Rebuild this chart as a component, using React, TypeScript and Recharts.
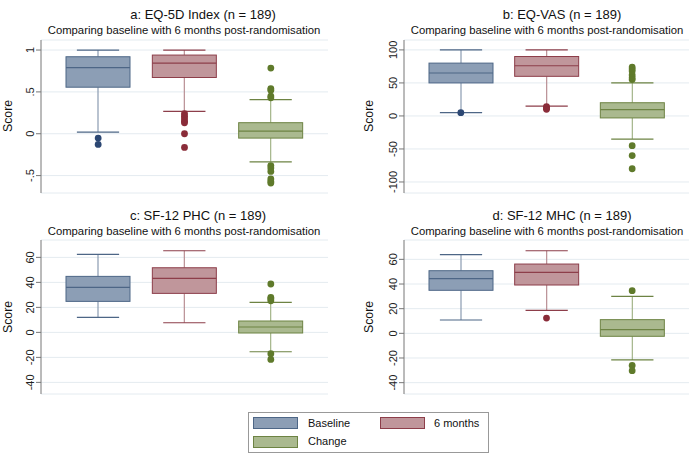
import { ComposedChart, Bar, Scatter, XAxis, YAxis, CartesianGrid } from "recharts";

/* ── Data ───────────────────────────────────────────────── */

const GROUPS = ["Baseline", "6 months", "Change"];

// box stats: [lower whisker, q1, median, q3, upper whisker]
const EQ5D_BASE = [0.02, 0.556, 0.79, 0.92, 1.0];
const EQ5D_SIX = [0.268, 0.672, 0.844, 0.94, 1.0];
const EQ5D_CHG = [-0.336, -0.052, 0.032, 0.132, 0.408];
const EQ5D_BASE_OUT = [-0.052, -0.128];
const EQ5D_SIX_OUT = [0.24, 0.21, 0.18, 0.15, 0.13, 0.0, -0.164];
const EQ5D_CHG_OUT = [0.784, 0.54, 0.52, 0.45, 0.43, -0.38, -0.41, -0.45, -0.54, -0.57, -0.59];
const EQ5D_TICKS = [-0.5, 0, 0.5, 1];

const VAS_BASE = [5, 50, 65, 80, 100];
const VAS_SIX = [15, 60, 76, 90, 100];
const VAS_CHG = [-35, -3, 9.5, 20, 50];
const VAS_BASE_OUT = [5];
const VAS_SIX_OUT = [14, 12, 10];
const VAS_CHG_OUT = [74, 71, 68, 62, 58, 55, -45, -60, -80];
const VAS_TICKS = [-100, -50, 0, 50, 100];

const PHC_BASE = [12, 24.8, 36, 44.8, 62.4];
const PHC_SIX = [7.7, 31.2, 43.2, 51.7, 65.3];
const PHC_CHG = [-15.5, -0.5, 4.3, 9.1, 24];
const PHC_BASE_OUT: number[] = [];
const PHC_SIX_OUT: number[] = [];
const PHC_CHG_OUT = [38.7, 28, 27, 25.3, -17, -21.6];

const MHC_BASE = [10.8, 34.9, 44.3, 50.8, 63.8];
const MHC_SIX = [18.6, 39.2, 49.5, 56.2, 67];
const MHC_CHG = [-21.6, -2.4, 3, 11.1, 30];
const MHC_BASE_OUT: number[] = [];
const MHC_SIX_OUT = [12.4];
const MHC_CHG_OUT = [34.6, -26, -30.3];
const SF_TICKS = [-40, -20, 0, 20, 40, 60];

/* ── Style ──────────────────────────────────────────────── */

const FONT = "'Liberation Sans', Arial, Helvetica, sans-serif";
const FILL = ["#8c9eb5", "#c0969b", "#aab98f"];
const EDGE = ["#4d6686", "#8d3e4a", "#6d8343"];
const WHISK = ["#8a9bb1", "#b98e93", "#a3b489"];
const DOT = ["#2c4773", "#8a2c39", "#5f7a2b"];
const AXIS = "#777";
const GRID = "#e4ebf0";

/* ── Helpers ────────────────────────────────────────────── */

function boxRows(stats: number[][]) {
  return stats.map((s, i) => ({
    g: GROUPS[i],
    i,
    lo: s[0],
    q1: s[1],
    med: s[2],
    q3: s[3],
    hi: s[4],
  }));
}

function outRows(outs: number[][]) {
  return outs.flatMap((arr, i) => arr.map((v) => ({ x: i + 0.5, v, i })));
}

function BoxShape(props: any) {
  const { x, y, width, height, payload } = props;
  if (!payload || payload.lo == null) return null;
  const top = Math.min(y, y + height);
  const bot = Math.max(y, y + height);
  const py = (v: number) => top + ((payload.hi - v) / (payload.hi - payload.lo)) * (bot - top);
  const cx = x + width / 2;
  const cap = width * 0.33;
  const i = payload.i;
  const yq3 = py(payload.q3);
  const yq1 = py(payload.q1);
  const ym = py(payload.med);
  return (
    <g>
      <line x1={cx} x2={cx} y1={top} y2={yq3} stroke={WHISK[i]} strokeWidth={1.2} />
      <line x1={cx} x2={cx} y1={yq1} y2={bot} stroke={WHISK[i]} strokeWidth={1.2} />
      <line x1={cx - cap} x2={cx + cap} y1={top} y2={top} stroke={EDGE[i]} strokeWidth={1.2} />
      <line x1={cx - cap} x2={cx + cap} y1={bot} y2={bot} stroke={EDGE[i]} strokeWidth={1.2} />
      <rect x={x} y={yq3} width={width} height={yq1 - yq3} fill={FILL[i]} stroke={EDGE[i]} strokeWidth={1} />
      <line x1={x} x2={x + width} y1={ym} y2={ym} stroke={EDGE[i]} strokeWidth={1.2} />
    </g>
  );
}

function OutDot(props: any) {
  const { cx, cy, payload } = props;
  if (cx == null || cy == null) return null;
  return <circle cx={cx} cy={cy} r={3.4} fill={DOT[payload.i]} />;
}

function fmtIndex(v: number) {
  return String(v).replace("0.", ".");
}

function RotTick(props: any) {
  const { x, y, payload, fmt } = props;
  const label = fmt ? fmt(payload.value) : String(payload.value);
  return (
    <text
      x={x}
      y={y}
      transform={`rotate(-90 ${x} ${y})`}
      textAnchor="middle"
      fontSize={11}
      fontFamily={FONT}
      fill="#222"
    >
      {label}
    </text>
  );
}

/* ── Panel ──────────────────────────────────────────────── */

interface PanelProps {
  left: number;
  plotLeft: number;
  plotRight: number;
  plotTop: number;
  plotBottom: number;
  domain: [number, number];
  ticks: number[];
  stats: number[][];
  outs: number[][];
  fmt?: (v: number) => string;
}

function Panel({ left, plotLeft, plotRight, plotTop, plotBottom, domain, ticks, stats, outs, fmt }: PanelProps) {
  const pad = 6;
  const width = plotRight - left + 1;
  const height = plotBottom - plotTop + pad * 2;
  return (
    <div style={{ position: "absolute", left, top: plotTop - pad, width, height }}>
      <ComposedChart
        width={width}
        height={height}
        data={boxRows(stats)}
        margin={{ top: pad, right: 1, bottom: pad, left: 0 }}
      >
        <CartesianGrid horizontal vertical={false} stroke={GRID} />
        <XAxis
          dataKey="g"
          type="category"
          height={0}
          tick={false}
          tickLine={false}
          axisLine={{ stroke: AXIS }}
          padding={{ left: 14, right: 14 }}
        />
        <XAxis
          xAxisId="n"
          dataKey="x"
          type="number"
          domain={[0, 3]}
          hide
          padding={{ left: 14, right: 14 }}
        />
        <YAxis
          type="number"
          domain={domain}
          ticks={ticks}
          allowDataOverflow
          width={plotLeft - left}
          tickSize={5}
          tickLine={{ stroke: AXIS }}
          axisLine={{ stroke: AXIS }}
          tick={(p: any) => <RotTick {...p} fmt={fmt} />}
        />
        <Bar
          dataKey={(d: any) => [d.lo, d.hi]}
          barSize={64}
          shape={<BoxShape />}
          isAnimationActive={false}
        />
        <Scatter
          xAxisId="n"
          data={outRows(outs)}
          dataKey="v"
          shape={<OutDot />}
          isAnimationActive={false}
        />
      </ComposedChart>
    </div>
  );
}

/* ── Titles & legend ────────────────────────────────────── */

const SUB = "Comparing baseline with 6 months post-randomisation";

function Overlay() {
  const titles = [
    { t: "a: EQ-5D Index (n = 189)", x: 203, sx: 184, y: 19 },
    { t: "b: EQ-VAS (n = 189)", x: 562, sx: 547, y: 19 },
    { t: "c: SF-12 PHC (n = 189)", x: 198, sx: 184, y: 220 },
    { t: "d: SF-12 MHC (n = 189)", x: 562, sx: 547, y: 220 },
  ];
  const scores = [
    { x: 11.5, y: 116 },
    { x: 372.5, y: 116 },
    { x: 11.5, y: 317 },
    { x: 372.5, y: 317 },
  ];
  const legend = [
    { label: "Baseline", sx: 253, sy: 417, tx: 308, ty: 427, i: 0 },
    { label: "6 months", sx: 380, sy: 417, tx: 434, ty: 427, i: 1 },
    { label: "Change", sx: 253, sy: 436, tx: 308, ty: 445, i: 2 },
  ];
  return (
    <svg width={690} height={462} style={{ position: "absolute", left: 0, top: 0 }} fontFamily={FONT}>
      <rect width={690} height={462} fill="#fff" />
      {titles.map((d) => (
        <g key={d.t}>
          <text x={d.x} y={d.y} textAnchor="middle" fontSize={13} fill="#111">
            {d.t}
          </text>
          <text x={d.sx} y={d.y + 15} textAnchor="middle" fontSize={11.3} fill="#111">
            {SUB}
          </text>
        </g>
      ))}
      {scores.map((s, k) => (
        <text
          key={k}
          x={s.x}
          y={s.y}
          transform={`rotate(-90 ${s.x} ${s.y})`}
          textAnchor="middle"
          fontSize={12.3}
          fill="#111"
        >
          Score
        </text>
      ))}
      <rect x={248.5} y={412.5} width={240} height={40} fill="#fff" stroke="#999" />
      {legend.map((l) => (
        <g key={l.label}>
          <rect x={l.sx + 0.5} y={l.sy + 0.5} width={44} height={11} fill={FILL[l.i]} stroke={EDGE[l.i]} />
          <text x={l.tx} y={l.ty} fontSize={11} fill="#111">
            {l.label}
          </text>
        </g>
      ))}
    </svg>
  );
}

export default function App() {
  return (
    <div style={{ position: "absolute", left: 0, top: 0, width: 690, height: 462, background: "#fff" }}>
      <Overlay />
      <Panel
        left={0}
        plotLeft={41}
        plotRight={328}
        plotTop={40}
        plotBottom={193}
        domain={[-0.708, 1.12]}
        ticks={EQ5D_TICKS}
        stats={[EQ5D_BASE, EQ5D_SIX, EQ5D_CHG]}
        outs={[EQ5D_BASE_OUT, EQ5D_SIX_OUT, EQ5D_CHG_OUT]}
        fmt={fmtIndex}
      />
      <Panel
        left={345}
        plotLeft={404}
        plotRight={689}
        plotTop={40}
        plotBottom={193}
        domain={[-116.7, 115]}
        ticks={VAS_TICKS}
        stats={[VAS_BASE, VAS_SIX, VAS_CHG]}
        outs={[VAS_BASE_OUT, VAS_SIX_OUT, VAS_CHG_OUT]}
      />
      <Panel
        left={0}
        plotLeft={41}
        plotRight={328}
        plotTop={240}
        plotBottom={394}
        domain={[-49.3, 73.9]}
        ticks={SF_TICKS}
        stats={[PHC_BASE, PHC_SIX, PHC_CHG]}
        outs={[PHC_BASE_OUT, PHC_SIX_OUT, PHC_CHG_OUT]}
      />
      <Panel
        left={345}
        plotLeft={404}
        plotRight={689}
        plotTop={240}
        plotBottom={394}
        domain={[-49.2, 75.7]}
        ticks={SF_TICKS}
        stats={[MHC_BASE, MHC_SIX, MHC_CHG]}
        outs={[MHC_BASE_OUT, MHC_SIX_OUT, MHC_CHG_OUT]}
      />
    </div>
  );
}
